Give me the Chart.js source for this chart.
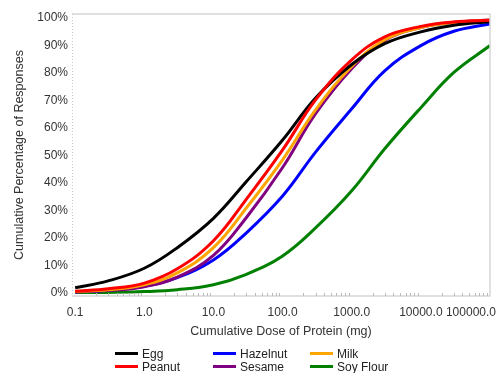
<!DOCTYPE html>
<html>
<head>
<meta charset="utf-8">
<script src="https://cdn.jsdelivr.net/npm/chart.js@4.4.1/dist/chart.umd.min.js"></script>
<style>
  body { margin: 0; background: #fff; }
  #wrap { position: relative; width: 501px; height: 373px; font-family: "Liberation Sans", Arial, sans-serif; }
  #legend { position: absolute; left: 115px; top: 347px; display: grid; grid-template-columns: 98px 97px auto; grid-auto-rows: 13px; font-size: 12px; color: #222; }
  #legend .item { display: flex; align-items: center; white-space: nowrap; }
  #legend .swatch { display: inline-block; width: 23px; height: 3.5px; margin-right: 4px; }
</style>
</head>
<body>
<div id="wrap">
  <canvas id="chart"></canvas>
  <div id="legend"></div>
</div>
<script>
// doses (mg) where the curves were read
const doses = [0.1, 0.3, 1, 3, 10, 30, 100, 300, 1000, 3000, 10000, 30000, 100000];

// cumulative % of responses per food
const egg      = [1.8, 4.3, 8.9, 16.4, 27.1, 40.5, 55.6, 70.9, 83.1, 90.7, 95, 97.4, 98.7];
const peanut   = [0.5, 1.4, 3.5, 8.7, 18.9, 34.1, 52, 70.2, 84.8, 93.2, 97, 98.6, 99.2];
const milk     = [0.4, 1.1, 2.9, 7.2, 16.4, 30.9, 48.4, 66.6, 82.4, 92.1, 96.6, 98.4, 99.2];
const sesame   = [0.3, 0.8, 2.2, 5.7, 13.6, 27.4, 45.6, 65.2, 81.6, 91.9, 96.6, 98.5, 99.3];
const hazelnut = [0.3, 0.9, 2.3, 5.5, 11.9, 21.8, 35.2, 51.2, 67, 80.8, 90, 95.2, 97.9];
const soyFlour = [0.03, 0.1, 0.4, 1.1, 2.9, 6.7, 13.4, 23.6, 37.1, 52.4, 67.4, 80.2, 90];

const names  = ['Egg', 'Hazelnut', 'Milk', 'Peanut', 'Sesame', 'Soy Flour'];
const series = [egg, hazelnut, milk, peanut, sesame, soyFlour];
const colors = ['#000000', '#0000ff', '#ffa500', '#ff0000', '#800080', '#008000'];
const drawOrder = [1, 4, 2, 0, 3, 5];   // lower = on top

const xTicks = [0.1, 1, 10, 100, 1000, 10000, 100000];
const xTickLabels = ['0.1', '1.0', '10.0', '100.0', '1000.0', '10000.0', '100000.0'];
const yTicks = [0, 10, 20, 30, 40, 50, 60, 70, 80, 90, 100];

const datasets = names.map((n, i) => ({
  label: n,
  data: doses.map((d, j) => ({x: d, y: series[i][j]})),
  borderColor: colors[i],
  borderWidth: 3,
  pointRadius: 0,
  fill: false,
  tension: 0.4,
  order: drawOrder[i]
}));

// legend in rows of three
const leg = document.getElementById('legend');
names.forEach((n, i) => {
  const it = document.createElement('div');
  it.className = 'item';
  it.innerHTML = '<span class="swatch" style="background:' + colors[i] + '"></span>' + n;
  leg.appendChild(it);
});

// frame, minor ticks, x labels
const framePlugin = {
  id: 'frame',
  afterDraw(chart) {
    const {ctx, chartArea: a} = chart;
    const xs = chart.scales.x;
    ctx.save();
    ctx.strokeStyle = '#d6d6d6';
    ctx.lineWidth = 1.5;
    ctx.beginPath();
    ctx.moveTo(a.left, a.top); ctx.lineTo(a.right, a.top); ctx.lineTo(a.right, a.bottom); ctx.lineTo(a.left, a.bottom);
    ctx.stroke();
    ctx.setLineDash([1, 2]);
    ctx.strokeStyle = '#c8c8c8';
    ctx.lineWidth = 1;
    ctx.beginPath();
    ctx.moveTo(a.left + 0.5, a.top); ctx.lineTo(a.left + 0.5, a.bottom);
    ctx.stroke();
    ctx.setLineDash([]);
    // minor log ticks
    ctx.strokeStyle = '#bbbbbb';
    ctx.beginPath();
    for (let k = -1; k < 5; k++) {
      for (let m = 2; m <= 9; m++) {
        const px = Math.round(xs.getPixelForValue(m * Math.pow(10, k))) + 0.5;
        ctx.moveTo(px, a.bottom); ctx.lineTo(px, a.bottom - 3);
      }
    }
    ctx.stroke();
    // x tick labels
    ctx.fillStyle = '#333';
    ctx.font = '12px "Liberation Sans", Arial, sans-serif';
    ctx.textBaseline = 'middle';
    xTicks.forEach((v, i) => {
      const px = xs.getPixelForValue(v);
      if (i === xTicks.length - 1) {
        ctx.textAlign = 'right';
        ctx.fillText(xTickLabels[i], chart.width - 5, a.bottom + 17);
      } else {
        ctx.textAlign = 'center';
        ctx.fillText(xTickLabels[i], px, a.bottom + 17);
      }
    });
    ctx.restore();
  }
};

new Chart(document.getElementById('chart'), {
  type: 'line',
  data: { datasets: datasets },
  options: {
    responsive: true,
    maintainAspectRatio: false,
    animation: false,
    layout: { padding: { top: 14, right: 11, bottom: 33, left: 0 } },
    plugins: { legend: { display: false }, tooltip: { enabled: false } },
    scales: {
      x: {
        type: 'logarithmic',
        min: 0.09,
        max: 100000,
        grid: { display: false, drawTicks: false },
        border: { display: false },
        ticks: { display: false },
        afterBuildTicks: (s) => { s.ticks = xTicks.map(v => ({value: v})); },
        afterFit: (s) => { s.height = 44; },
        title: {
          display: true,
          text: 'Cumulative Dose of Protein (mg)',
          color: '#333',
          font: { size: 12.5, family: '"Liberation Sans", Arial, sans-serif' },
          padding: { top: 0, bottom: 1 }
        }
      },
      y: {
        min: -1.2,
        max: 101.5,
        grid: { display: false, drawTicks: false },
        border: { display: false },
        afterBuildTicks: (s) => { s.ticks = yTicks.map(v => ({value: v})); },
        afterFit: (s) => { s.width = 72; },
        ticks: {
          padding: 4,
          color: '#333',
          font: { size: 12, family: '"Liberation Sans", Arial, sans-serif' },
          callback: (v) => v + '%'
        },
        title: {
          display: true,
          text: 'Cumulative Percentage of Responses',
          color: '#333',
          font: { size: 12.5, family: '"Liberation Sans", Arial, sans-serif' },
          padding: { top: 12, bottom: 0 }
        }
      }
    }
  },
  plugins: [framePlugin]
});
</script>
</body>
</html>
